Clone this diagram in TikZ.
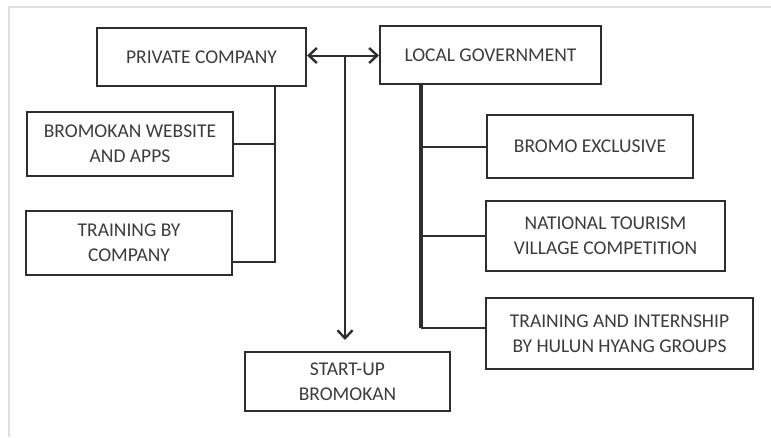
\documentclass[tikz,border=0pt]{standalone}
\usepackage{fontspec}
\setmainfont{Carlito}
\usetikzlibrary{arrows.meta}
\definecolor{ink}{HTML}{2e2e2e}
\definecolor{txt}{HTML}{3c3c3c}
\begin{document}
\begin{tikzpicture}[x=1pt,y=-1pt,
  box/.style={draw=ink, line width=2.2pt, align=center, inner sep=0pt,
    text=txt, font=\fontsize{19.5}{25}\selectfont},
  conn/.style={draw=ink, line width=2pt},
  trunk/.style={draw=ink, line width=3.2pt},
  tip/.style={-{Straight Barb[length=8pt,width=15pt,line width=2.4pt]}}]
\useasboundingbox (0,0) rectangle (771,437);
\fill[white] (0,0) rectangle (771,437);
\draw[black!12, line width=2pt] (8.5,437) -- (8.5,7) -- (771,7);

\node[box, minimum width=209pt, minimum height=58pt] (pc) at (201.5,57) {PRIVATE COMPANY};
\node[box, minimum width=221pt, minimum height=58pt] (lg) at (490.5,55) {LOCAL GOVERNMENT};
\node[box, minimum width=206pt, minimum height=64pt] (bw) at (130,144) {BROMOKAN WEBSITE\\AND APPS};
\node[box, minimum width=206pt, minimum height=64pt] (tc) at (129,243) {TRAINING BY\\COMPANY};
\node[box, minimum width=206pt, minimum height=63pt] (be) at (590,146.5) {BROMO EXCLUSIVE};
\node[box, minimum width=239pt, minimum height=70pt] (nt) at (605.5,236) {NATIONAL TOURISM\\VILLAGE COMPETITION};
\node[box, minimum width=267pt, minimum height=71pt] (ti) at (619.5,333.5) {TRAINING AND INTERNSHIP\\BY HULUN HYANG GROUPS};
\node[box, minimum width=205pt, minimum height=59pt] (su) at (347.5,381.5) {START-UP\\BROMOKAN};

% private company branch
\coordinate (pcb) at (275,262);
\draw[conn] (pc.south -| pcb) -- (pcb) -- (pcb -| tc.east);
\draw[conn] (bw.east) -- (bw.east -| pcb);

% local government branch
\coordinate (lgb) at (421,328);
\draw[trunk] (lg.south -| lgb) -- (lgb);
\draw[conn] (lgb) -- (lgb -| ti.west);
\draw[conn] (be.west) -- (be.west -| lgb);
\draw[conn] (nt.west) -- (nt.west -| lgb);

% arrows
\coordinate (mid) at (345,55.5);
\coordinate (sutip) at (345,340);
\draw[conn, tip] (mid) -- (mid -| lg.west);
\draw[conn, tip] (mid) -- (mid -| pc.east);
\draw[conn, tip] (mid) -- (sutip);
\end{tikzpicture}
\end{document}
